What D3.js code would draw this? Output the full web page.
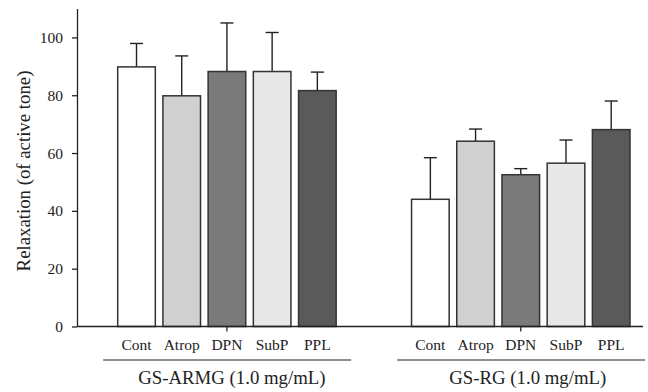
<!DOCTYPE html>
<html>
<head>
<meta charset="utf-8">
<script src="https://cdn.jsdelivr.net/npm/d3@7"></script>
<style>
  body { margin: 0; background: #fff; }
  text { font-family: "Liberation Serif", "DejaVu Serif", serif; fill: #222; }
</style>
</head>
<body>
<svg id="chart" width="648" height="392"></svg>
<script>
const groups = ["GS-ARMG (1.0 mg/mL)", "GS-RG (1.0 mg/mL)"];
const categories = ["Cont", "Atrop", "DPN", "SubP", "PPL"];
const means = [
  [89.8, 79.8, 88.2, 88.2, 81.6],
  [44.0, 64.1, 52.5, 56.5, 68.1]
];
const errTops = [
  [97.9, 93.6, 105.0, 101.7, 88.0],
  [58.4, 68.3, 54.6, 64.5, 78.0]
];
const fills = ["#ffffff", "#d0d0d0", "#7a7a7a", "#e8e8e8", "#5a5a5a"];
const yTicks = [0, 20, 40, 60, 80, 100];

const svg = d3.select("#chart");

const y = d3.scaleLinear().domain([0, 110]).range([326.5, 8.5]);
const xGroup = d3.scaleBand().domain(groups).range([117.7, 630]).paddingInner(0.2566).paddingOuter(0);
const xCat = d3.scaleBand().domain(categories).range([0, xGroup.bandwidth()]).paddingInner(0.168).paddingOuter(0);

// y axis
const yAxis = svg.append("g")
  .attr("transform", "translate(77,0)")
  .call(d3.axisLeft(y).tickValues(yTicks).tickSize(5).tickPadding(9).tickSizeOuter(0));
yAxis.select(".domain").attr("stroke", "#222").attr("stroke-width", 1.3);
yAxis.selectAll(".tick line").attr("stroke", "#222").attr("stroke-width", 1.3);
yAxis.selectAll(".tick text").style("font-size", "15.5px").attr("fill", "#222")
  .style("font-family", '"Liberation Serif", serif');

svg.append("text")
  .attr("transform", "translate(29.5,171) rotate(-90)")
  .attr("text-anchor", "middle")
  .style("font-size", "18.8px")
  .text("Relaxation (of active tone)");

// bars
const data = [];
groups.forEach((g, gi) => categories.forEach((c, ci) => data.push({
  g, c, ci, v: means[gi][ci], top: errTops[gi][ci]
})));

const bx = d => xGroup(d.g) + xCat(d.c);

// error bars (drawn first, bars cover lower part)
const err = svg.append("g").attr("stroke", "#222").attr("stroke-width", 1.4);
err.selectAll("line.v").data(data).join("line")
  .attr("x1", d => bx(d) + xCat.bandwidth() / 2)
  .attr("x2", d => bx(d) + xCat.bandwidth() / 2)
  .attr("y1", d => y(d.v))
  .attr("y2", d => y(d.top));
err.selectAll("line.c").data(data).join("line")
  .attr("x1", d => bx(d) + xCat.bandwidth() / 2 - 6.5)
  .attr("x2", d => bx(d) + xCat.bandwidth() / 2 + 6.5)
  .attr("y1", d => y(d.top))
  .attr("y2", d => y(d.top));

svg.append("g").selectAll("rect").data(data).join("rect")
  .attr("x", d => bx(d))
  .attr("y", d => y(d.v))
  .attr("width", xCat.bandwidth())
  .attr("height", d => y(0) - y(d.v))
  .attr("fill", d => fills[d.ci])
  .attr("stroke", "#333")
  .attr("stroke-width", 1.5);

// x axis baseline
svg.append("line")
  .attr("x1", 77).attr("x2", 643)
  .attr("y1", y(0)).attr("y2", y(0))
  .attr("stroke", "#222").attr("stroke-width", 1.3);

const labelShift = [5, 7];
groups.forEach((g, gi) => {
  const cx = xGroup(g) + xGroup.bandwidth() / 2;
  svg.append("line")
    .attr("x1", cx).attr("x2", cx)
    .attr("y1", y(0)).attr("y2", y(0) + 5)
    .attr("stroke", "#222").attr("stroke-width", 1.3);

  svg.append("g").selectAll("text").data(categories).join("text")
    .attr("x", c => xGroup(g) + xCat(c) + xCat.bandwidth() / 2)
    .attr("y", 350)
    .attr("text-anchor", "middle")
    .style("font-size", "15.5px")
    .text(c => c);

  svg.append("line")
    .attr("x1", xGroup(g) - 14.5).attr("x2", xGroup(g) + xGroup.bandwidth() + 15)
    .attr("y1", 360).attr("y2", 360)
    .attr("stroke", "#222").attr("stroke-width", 1.2);

  svg.append("text")
    .attr("x", cx + labelShift[gi])
    .attr("y", 384)
    .attr("text-anchor", "middle")
    .style("font-size", "18.8px")
    .text(g);
});
</script>
</body>
</html>
